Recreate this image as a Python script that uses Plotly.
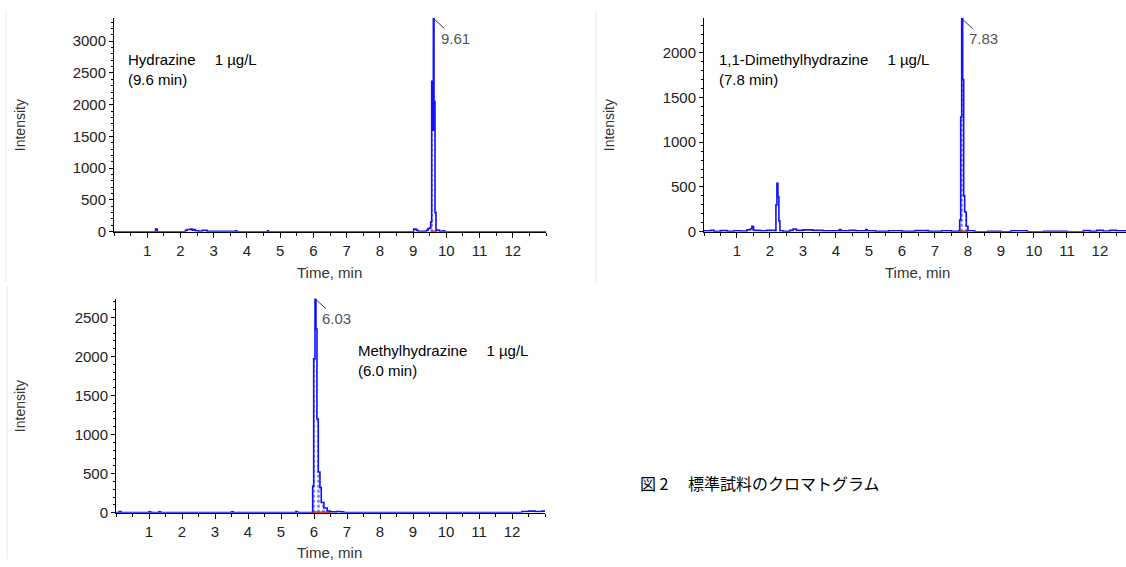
import plotly.graph_objects as go

# ---------------- data ----------------
# Hydrazine chromatogram
hyd_t = [0.0, 1.2, 1.25, 1.3, 2.1, 2.15, 2.2, 2.3, 2.35, 2.4, 2.45, 2.55, 2.65, 2.75, 2.8,
         3.65, 3.67, 3.7, 4.6, 4.62, 4.65, 9.0, 9.02, 9.1, 9.15, 9.35, 9.4, 9.45, 9.5,
         9.53, 9.56, 9.59, 9.61, 9.63, 9.66, 9.69, 9.72, 9.8, 9.9, 9.95, 13.0]
hyd_i = [0, 0, 40, 0, 0, 20, 35, 40, 25, 35, 15, 5, 20, 20, 5,
         0, 15, 0, 0, 15, 0, 0, 40, 20, 5, 5, 20, 50, 60,
         150, 2370, 1600, 3360, 2050, 300, 30, 20, 5, 15, 0, 0]
hyd_int = (9.53, 9.72)
hyd_apex = (9.61, 3360, "9.61")

# 1,1-Dimethylhydrazine chromatogram
dmh_t = [0.0, 0.2, 0.3, 0.5, 0.7, 0.9, 1.1, 1.3, 1.4, 1.45, 1.5, 1.7, 1.9, 2.15, 2.18, 2.21,
         2.24, 2.27, 2.3, 2.4, 2.6, 2.7, 2.8, 3.0, 3.3, 3.6, 4.1, 4.15, 4.4, 4.6, 4.9, 4.95,
         5.2, 5.6, 6.0, 6.4, 6.8, 7.2, 7.5, 7.72, 7.75, 7.78, 7.81, 7.84, 7.87, 7.9, 7.95,
         8.0, 8.2, 8.6, 9.0, 9.3, 9.8, 10.3, 11.0, 11.5, 11.7, 11.9, 12.1, 12.3, 12.5, 12.8]
dmh_i = [10, 15, 5, 12, 5, 10, 8, 20, 30, 60, 15, 10, 15, 10, 300, 540,
         390, 120, 10, 5, 15, 30, 15, 20, 15, 10, 25, 10, 15, 10, 25, 10,
         5, 10, 5, 12, 5, 10, 5, 10, 130, 1280, 2380, 1700, 400, 220, 60,
         10, 0, 5, 0, 10, 0, 5, 0, 12, 5, 15, 8, 15, 10, 12]
dmh_int = (7.75, 8.0)
dmh_apex = (7.81, 2380, "7.83")

# Methylhydrazine chromatogram
mh_t = [0.0, 0.1, 0.15, 1.0, 1.05, 1.3, 1.35, 3.5, 3.55, 5.45, 5.5, 5.93, 5.96, 5.99,
        6.03, 6.06, 6.09, 6.13, 6.18, 6.22, 6.3, 6.4, 6.5, 6.7, 6.8, 6.9, 12.1, 12.3,
        12.5, 12.7, 12.9, 13.0]
mh_i = [0, 15, 0, 10, 0, 10, 0, 10, 0, 15, 0, 0, 340, 1970,
        2740, 2350, 1200, 520, 320, 130, 60, 20, 10, 15, 10, 0, 0, 15,
        20, 15, 20, 10]
mh_int = (5.93, 6.5)
mh_apex = (6.03, 2740, "6.03")

x_ticks = [1, 2, 3, 4, 5, 6, 7, 8, 9, 10, 11, 12]
x_tick_text = [str(v) for v in x_ticks]

labels = ["Hydrazine\u2003 1 µg/L<br>(9.6 min)",
          "1,1-Dimethylhydrazine\u2003 1 µg/L<br>(7.8 min)",
          "Methylhydrazine\u2003 1 µg/L<br>(6.0 min)"]
caption = "図 2　 標準試料のクロマトグラム"

# ---------------- layout helpers ----------------
W, H = 1126, 567
FONT = "Liberation Sans, Arial, sans-serif"


def px(x):
    return x / W


def py(y):
    return 1 - y / H


panels = [
    dict(t=hyd_t, i=hyd_i, win=hyd_int, apex=hyd_apex, label=labels[0],
         xd=(114, 546), yd=(18, 235), xr=13.0, yr=3370, lab=(126, 71), ax=(22, 20),
         intens=(20, 127), time=(329, 276)),
    dict(t=dmh_t, i=dmh_i, win=dmh_int, apex=dmh_apex, label=labels[1],
         xd=(704, 1126), yd=(18, 235), xr=12.79, yr=2390, lab=(717, 71), ax=(22, 20),
         intens=(609, 127), time=(917, 276)),
    dict(t=mh_t, i=mh_i, win=mh_int, apex=mh_apex, label=labels[2],
         xd=(116, 545), yd=(303, 520), xr=13.0, yr=2740, lab=(356, 366), ax=(22, 20),
         intens=(20, 412), time=(329, 560)),
]

fig = go.Figure()
annotations = []
shapes = []
BLUE = "#1010ff"

for k, p in enumerate(panels):
    n = "" if k == 0 else str(k + 1)
    xa, ya = "x" + n, "y" + n
    t0, t1 = p["win"]
    pt = [t for t in p["t"] if t0 <= t <= t1]
    pi = [v for t, v in zip(p["t"], p["i"]) if t0 <= t <= t1]
    # integrated area (dotted)
    fig.add_trace(go.Scatter(
        x=pt, y=pi, xaxis=xa, yaxis=ya, mode="lines", line=dict(width=0, shape="hv"),
        fill="tozeroy", fillcolor="white",
        fillpattern=dict(shape=".", fgcolor=BLUE, bgcolor="white", size=5, solidity=0.35),
        hoverinfo="skip", showlegend=False))
    # chromatogram
    fig.add_trace(go.Scatter(
        x=p["t"], y=p["i"], xaxis=xa, yaxis=ya, mode="lines",
        line=dict(color=BLUE, width=1.6, shape="hv"), showlegend=False))
    # integration baseline
    fig.add_trace(go.Scatter(
        x=[t0, t1], y=[0, 0], xaxis=xa, yaxis=ya, mode="lines",
        line=dict(color="#e00000", width=2.5), showlegend=False))

    axis_common = dict(showline=True, linecolor="black", linewidth=1, ticks="outside",
                       tickcolor="black", showgrid=False, zeroline=False,
                       tickfont=dict(family=FONT, size=15, color="#222"),
                       fixedrange=True)
    fig.layout["xaxis" + n] = dict(
        domain=[px(p["xd"][0]), px(p["xd"][1])], anchor=ya, range=[0, p["xr"]],
        tickmode="array", tickvals=x_ticks, ticktext=x_tick_text, ticklen=5,
        minor=dict(dtick=0.5, tick0=0, ticklen=3, ticks="outside", tickcolor="black"),
        **axis_common)
    fig.layout["yaxis" + n] = dict(
        domain=[py(p["yd"][1]), py(p["yd"][0])], anchor=xa, range=[0, p["yr"]],
        dtick=500, ticklen=4,
        minor=dict(dtick=100, ticklen=2, ticks="outside", tickcolor="black"),
        **axis_common)

    # compound label
    annotations.append(dict(
        x=px(p["lab"][0]), y=py(p["lab"][1]), xref="paper", yref="paper",
        xanchor="left", yanchor="middle", align="left", showarrow=False,
        text=p["label"], font=dict(family=FONT, size=15, color="black")))
    # apex label
    annotations.append(dict(
        x=p["apex"][0], y=p["apex"][1], xref=xa, yref=ya, text=p["apex"][2],
        showarrow=True, arrowhead=0, arrowwidth=1, arrowcolor="#333",
        ax=p["ax"][0], ay=p["ax"][1], xanchor="center", yanchor="middle",
        font=dict(family=FONT, size=15, color="#555")))
    # axis titles
    annotations.append(dict(
        x=px(p["intens"][0]), y=py(p["intens"][1]), xref="paper", yref="paper",
        text="Intensity", textangle=-90, showarrow=False,
        xanchor="center", yanchor="middle",
        font=dict(family=FONT, size=14, color="#333")))
    annotations.append(dict(
        x=px(p["time"][0]), y=py(p["time"][1]), xref="paper", yref="paper",
        text="Time, min", showarrow=False, xanchor="center", yanchor="middle",
        font=dict(family=FONT, size=15, color="#333")))

# faint frame lines of the original screenshots
for (x0, y0, y1) in [(6, 12, 287), (596, 12, 286), (7, 290, 567)]:
    shapes.append(dict(type="line", xref="paper", yref="paper",
                       x0=px(x0), x1=px(x0), y0=py(y0), y1=py(y1),
                       line=dict(color="#e8e8e8", width=1)))

annotations.append(dict(
    x=px(638), y=py(490), xref="paper", yref="paper", xanchor="left", yanchor="middle",
    text=caption, showarrow=False,
    font=dict(family="Noto Sans CJK JP", size=16, color="black")))

fig.update_layout(
    width=W, height=H, margin=dict(l=0, r=0, t=0, b=0),
    paper_bgcolor="white", plot_bgcolor="white",
    annotations=annotations, shapes=shapes, showlegend=False)

post = (
    "document.documentElement.style.overflow='hidden';"
    "document.body.style.margin='0';"
    "document.body.style.overflow='hidden';"
)

fig.write_html("out.html", config={"displayModeBar": False}, post_script=post)
